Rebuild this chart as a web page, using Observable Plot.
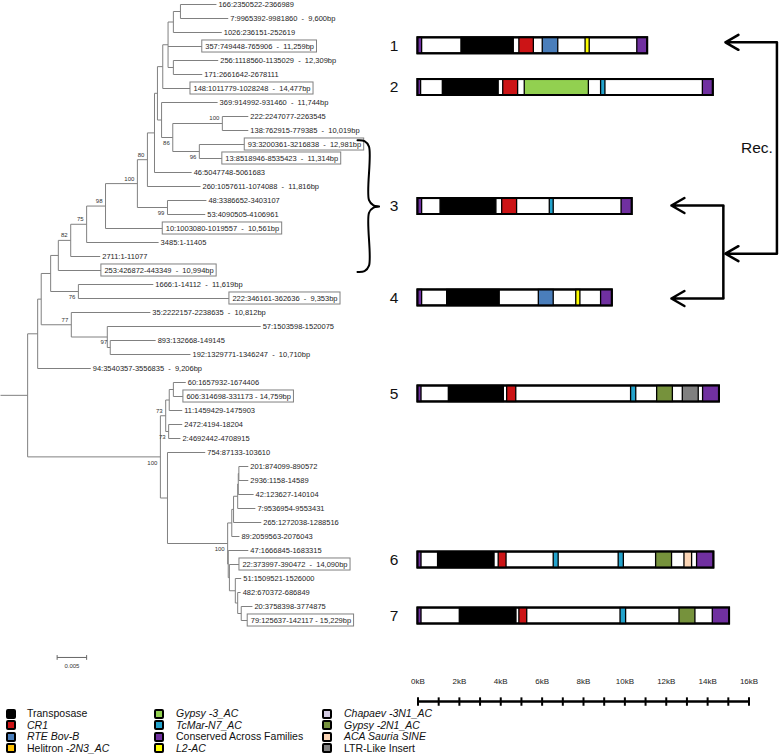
<!DOCTYPE html>
<html><head><meta charset="utf-8">
<script src="https://cdn.jsdelivr.net/npm/d3@7"></script>
<script src="https://cdn.jsdelivr.net/npm/@observablehq/plot@0.6"></script>
<style>
html,body{margin:0;padding:0;background:#fff;}
#wrap{position:relative;width:779px;height:754px;overflow:hidden;font-family:"Liberation Sans",Arial,sans-serif;}
#tree{position:absolute;left:0;top:0;}
#struct{position:absolute;left:380px;top:0;}
.lg{position:absolute;font-size:10.5px;line-height:10.5px;white-space:nowrap;color:#111;}
.sw{position:absolute;box-sizing:border-box;width:10px;height:10px;border:2px solid #000;border-radius:2px;}
</style></head>
<body><div id="wrap"><div id="tree"></div><div id="struct"></div><div id="legend"></div></div>
<script>
// ---------------- DATA ----------------
const leafLabels = [
 "166:2350522-2366989","7:9965392-9981860  -  9,600bp","1026:236151-252619","357:749448-765906  -  11,259bp",
 "256:1118560-1135029  -  12,309bp","171:2661642-2678111","148:1011779-1028248  -  14,477bp","369:914992-931460  -  11,744bp",
 "222:2247077-2263545","138:762915-779385  -  10,019bp","93:3200361-3216838  -  12,981bp","13:8518946-8535423  -  11,314bp",
 "46:5047748-5061683","260:1057611-1074088  -  11,816bp","48:3386652-3403107","53:4090505-4106961",
 "10:1003080-1019557  -  10,561bp","3485:1-11405","2711:1-11077","253:426872-443349  -  10,994bp",
 "1666:1-14112  -  11,619bp","222:346161-362636  -  9,353bp","35:2222157-2238635  -  10,812bp","57:1503598-1520075",
 "893:132668-149145","192:1329771-1346247  -  10,710bp","94:3540357-3556835  -  9,206bp","60:1657932-1674406",
 "606:314698-331173 - 14,759bp","11:1459429-1475903","2472:4194-18204","2:4692442-4708915",
 "754:87133-103610","201:874099-890572","2936:1158-14589","42:123627-140104",
 "7:9536954-9553431","265:1272038-1288516","89:2059563-2076043","47:1666845-1683315",
 "22:373997-390472  -  14,090bp","51:1509521-1526000","482:670372-686849","20:3758398-3774875",
 "79:125637-142117 - 15,229bp"];
// distance from the tree origin (substitutions/site)
const leafDepth = [0.0366,0.0386,0.0375,0.0342,0.0369,0.0342,0.0322,0.0368,0.0420,0.0420,
 0.0414,0.0376,0.0324,0.0339,0.0349,0.0347,0.0275,0.0268,0.0169,0.0171,
 0.0259,0.0388,0.0254,0.0441,0.0263,0.0322,0.0153,0.0314,0.0310,0.0308,
 0.0308,0.0305,0.0347,0.0420,0.0420,0.0429,0.0432,0.0442,0.0405,0.0420,
 0.0405,0.0408,0.0407,0.0427,0.0419];
const leafParent = ["A","A","B","C","D","D","F","L","I","I","J","J","M","Nn","n167a","n167a","n105","n86","n70","V",
 "n78","n78","Z","W","n110","n110","P1","n173","n173","n169","n168","n168","n167b","n1","n1","n2","n3","n4","n5","n10",
 "n9","n8","n7","n6","n6"];
const boxedLeaves = [3,6,10,11,16,19,21,28,40,44];

const nodeIds     = ["R","P1","X","Y","V","n70","n86","n105","n137","Nn","M","G","F","C","B","A","D","L","K","I","J","n167a","n78","Z","W","n110","Q","n165","n169","n173","n168","n167b","n227","n5","n4","n3","n2","n1","n10","n9","n8","n7","n6"];
const nodeParent  = [null,"R","P1","X","Y","V","n70","n86","n105","n137","Nn","M","G","F","C","B","C","G","L","K","K","n137","Y","X","Z","W","R","Q","n165","n169","n165","Q","n167b","n227","n5","n4","n3","n2","n227","n10","n9","n8","n7"];
const nodeDepth   = [0.0046,0.0063,0.0069,0.0085,0.0098,0.0119,0.0146,0.0178,0.0232,0.0249,0.0261,0.0266,0.0275,0.0284,0.0293,0.0305,0.0293,0.0273,0.0292,0.0376,0.0337,0.0283,0.0132,0.0120,0.0181,0.0186,0.0271,0.0280,0.0286,0.0293,0.0285,0.0283,0.0385,0.0392,0.0395,0.0402,0.0403,0.0404,0.0386,0.0388,0.0398,0.0402,0.0408];
const nodeSupport = ["","","","","","82","75","98","100","80","","","","","","","","","86","100","96","99","76","77","","97","100","73","","","73","","100","","","","","","","","","",""];
const scaleBarLength = 0.005;

const structureIds = ["1","2","3","4","5","6","7"];
const structureRow = [2.95,5.93,14.43,20.96,27.82,39.68,43.68];   // aligned with tree rows
const structureLength = [11.1,14.27,10.35,9.39,14.57,14.3,15.06]; // kB
const segments = [
 [1,"Conserved Across Families",0,0.2],[1,"Transposase",2.1,4.63],[1,"CR1",4.9,5.6],[1,"RTE Bov-B",6.03,6.78],[1,"L2-AC",8.1,8.3],[1,"Conserved Across Families",10.6,11.1],
 [2,"Conserved Across Families",0,0.15],[2,"Transposase",1.2,3.9],[2,"CR1",4.12,4.84],[2,"Gypsy-3_AC",5.16,8.26],[2,"TcMar-N7_AC",8.85,9.06],[2,"Conserved Across Families",13.77,14.27],
 [3,"Conserved Across Families",0,0.2],[3,"Transposase",1.09,3.79],[3,"CR1",4.07,4.79],[3,"TcMar-N7_AC",6.37,6.56],[3,"Conserved Across Families",9.84,10.35],
 [4,"Conserved Across Families",0,0.2],[4,"Transposase",1.41,3.95],[4,"RTE Bov-B",5.84,6.56],[4,"L2-AC",7.65,7.85],[4,"Conserved Across Families",8.85,9.39],
 [5,"Conserved Across Families",0,0.17],[5,"Transposase",1.49,4.15],[5,"CR1",4.31,4.75],[5,"TcMar-N7_AC",10.3,10.55],[5,"Gypsy-2N1_AC",11.56,12.32],[5,"LTR-Like Insert",12.8,13.57],[5,"Conserved Across Families",13.78,14.57],
 [6,"Conserved Across Families",0,0.17],[6,"Transposase",0.97,3.7],[6,"CR1",3.9,4.28],[6,"TcMar-N7_AC",6.56,6.8],[6,"TcMar-N7_AC",9.7,9.95],[6,"Gypsy-2N1_AC",11.51,12.28],[6,"ACA Sauria SINE",12.88,13.25],[6,"Conserved Across Families",13.49,14.3],
 [7,"Conserved Across Families",0,0.17],[7,"Transposase",2.02,4.76],[7,"CR1",4.9,5.28],[7,"TcMar-N7_AC",9.79,10.06],[7,"Gypsy-2N1_AC",12.64,13.41],[7,"Conserved Across Families",14.25,15.06]
];
const familyNames = ["Transposase","CR1","RTE Bov-B","Helitron-2N3_AC","Gypsy-3_AC","TcMar-N7_AC","Conserved Across Families","L2-AC","Chapaev-3N1_AC","Gypsy-2N1_AC","ACA Sauria SINE","LTR-Like Insert"];
const familyColors = ["#000000","#cc1416","#4a7ebb","#ffc000","#92d050","#23a3cc","#7030a0","#ffff00","#d3cbe2","#76923c","#fbd5b5","#808080"];
const familyLabelHtml = ["Transposase","<i>CR1</i>","<i>RTE Bov-B</i>","Helitron -<i>2N3_AC</i>","<i>Gypsy -3_AC</i>","<i>TcMar-N7_AC</i>","Conserved Across Families","<i>L2-AC</i>","<i>Chapaev -3N1_AC</i>","<i>Gypsy -2N1_AC</i>","<i>ACA Sauria SINE</i>","LTR-Like Insert"];
const kbTicks = [0,1,2,3,4,5,6,7,8,9,10,11,12,13,14,15,16];
const kbLabels = [0,2,4,6,8,10,12,14,16];
const recGroup = {from: 17.8, to: 2.7};        // rows of recombination arrows
const splitGroup = {rows: [14.36, 21.0]};      // structures 3 and 4
const braceRows = {top: 9.7, bottom: 19.1};    // leaves 93 ... 253 -> structure 3

// ---------------- TREE LAYOUT ----------------
const FONT = '"Liberation Sans", Arial, sans-serif';
const H = 712;
const AXIS_ROW = 49.79, AXIS_LABEL_ROW = 48.36, SCALEBAR_ROW = 46.64;
const nodes = new Map();
nodeIds.forEach((id, i) => nodes.set(id, {id, depth: nodeDepth[i], support: nodeSupport[i], children: []}));
leafLabels.forEach((lab, i) => nodes.get(leafParent[i]).children.push({leaf: true, i, depth: leafDepth[i], y: i, label: lab}));
nodeIds.forEach((id, i) => { if (nodeParent[i]) nodes.get(nodeParent[i]).children.push(nodes.get(id)); });
function lay(n) {
  if (n.leaf) return n.y;
  const ys = n.children.map(lay);
  n.ymin = d3.min(ys); n.ymax = d3.max(ys); n.y = (n.ymin + n.ymax) / 2;
  return n.y;
}
const root = nodes.get("R");
lay(root);
const segs = [{x1: 0, x2: root.depth, y1: root.y, y2: root.y}];
const supports = [];
const below = new Set(["K","J","n167a","n78","Q","n168","n227"]);
(function walk(n) {
  if (n.leaf) return;
  segs.push({x1: n.depth, x2: n.depth, y1: n.ymin, y2: n.ymax});
  if (n.support) supports.push({x: n.depth, y: n.y, t: n.support, below: below.has(n.id)});
  n.children.forEach(c => { segs.push({x1: n.depth, x2: c.depth, y1: c.y, y2: c.y}); walk(c); });
})(root);

const leaves = leafLabels.map((lab, i) => ({i, label: lab, depth: leafDepth[i], y: i, boxed: boxedLeaves.includes(i)}));
const ctx = document.createElement("canvas").getContext("2d");
ctx.font = '7.5px "Liberation Sans", Arial, sans-serif';
const PX_PER_UNIT = 295 / 0.05;
const boxes = leaves.filter(d => d.boxed).map(d => ({
  x1: d.depth, x2: d.depth + (ctx.measureText(d.label).width + 6) / PX_PER_UNIT, y1: d.y - 0.43, y2: d.y + 0.43
}));
// brace grouping leaves 93..253 (drawn at the right edge of the tree panel)
const tipRow = structureRow[2];
const bx = px => px / PX_PER_UNIT;
const brace = [
  [357, braceRows.top], [364, braceRows.top + 0.06], [368.5, braceRows.top + 0.45],
  [368.5, tipRow - 0.45], [373, tipRow - 0.08], [379, tipRow], [373, tipRow + 0.08], [368.5, tipRow + 0.45],
  [368.5, braceRows.bottom - 0.45], [364, braceRows.bottom - 0.06], [357, braceRows.bottom]
].map(([x, y]) => ({x: bx(x), y}));

const treePlot = Plot.plot({
  width: 380, height: H, margin: 0,
  x: {domain: [0, 0.05], range: [0, 295]},
  y: {domain: [0, 44], range: [4, 620]},
  style: {background: "transparent", fontFamily: FONT},
  marks: [
    Plot.link(segs, {x1: "x1", x2: "x2", y1: "y1", y2: "y2", stroke: "#808080", strokeWidth: 1}),
    Plot.rect(boxes, {x1: "x1", x2: "x2", y1: "y1", y2: "y2", fill: "white", stroke: "#808080", strokeWidth: 1}),
    Plot.text(leaves.filter(d => d.boxed), {x: "depth", y: "y", text: "label", dx: 3, textAnchor: "start", fontSize: 7.5, fill: "#1e1e1e"}),
    Plot.text(leaves.filter(d => !d.boxed), {x: "depth", y: "y", text: "label", dx: 2, textAnchor: "start", fontSize: 7.5, fill: "#1e1e1e"}),
    Plot.text(supports.filter(d => !d.below), {x: "x", y: "y", text: "t", dx: -3, dy: -5, textAnchor: "end", fontSize: 6, fill: "#333"}),
    Plot.text(supports.filter(d => d.below), {x: "x", y: "y", text: "t", dx: -3, dy: 6, textAnchor: "end", fontSize: 6, fill: "#333"}),
    Plot.line(brace, {x: "x", y: "y", curve: "catmull-rom", stroke: "black", strokeWidth: 2}),
    // scale bar
    Plot.link([{a: 0.0096, b: 0.0096 + scaleBarLength}], {x1: "a", x2: "b", y1: SCALEBAR_ROW, y2: SCALEBAR_ROW, stroke: "#666", strokeWidth: 1}),
    Plot.link([0.0096, 0.0096 + scaleBarLength], {x1: d => d, x2: d => d, y1: SCALEBAR_ROW - 0.17, y2: SCALEBAR_ROW + 0.17, stroke: "#666", strokeWidth: 1}),
    Plot.text([scaleBarLength], {x: d => 0.0096 + d / 2, y: SCALEBAR_ROW + 0.62, text: d => String(d), fontSize: 6, fill: "#333"})
  ]
});
document.getElementById("tree").append(treePlot);

// ---------------- STRUCTURES ----------------
const structures = structureIds.map((id, i) => ({id, row: structureRow[i], start: 0, end: structureLength[i]}));
const segData = segments.map(([s, f, a, b]) => ({row: structureRow[s - 1], family: f, start: a, end: b}));
const HALF = 0.57;
const recX = 17.35, recHead = 14.86, splitX = 14.76, splitHead = 12.25;

const structPlot = Plot.plot({
  width: 399, height: H, margin: 0,
  x: {domain: [0, 16], range: [37.5, 368.5]},
  y: {domain: [0, 44], range: [4, 620]},
  color: {domain: familyNames, range: familyColors},
  style: {background: "transparent", fontFamily: FONT},
  marks: [
    Plot.rect(structures, {x1: "start", x2: "end", y1: d => d.row - HALF, y2: d => d.row + HALF, fill: "white", stroke: "black", strokeWidth: 2}),
    Plot.rect(segData, {x1: "start", x2: "end", y1: d => d.row - HALF, y2: d => d.row + HALF, fill: "family", stroke: "black", strokeWidth: 1.3}),
    Plot.rect(structures, {x1: "start", x2: "end", y1: d => d.row - HALF, y2: d => d.row + HALF, fill: "none", stroke: "black", strokeWidth: 2}),
    Plot.text(structures, {x: "start", y: "row", text: "id", dx: -24, fontSize: 15.5, fill: "#111"}),
    // recombination arrows
    Plot.link([recGroup], {x1: recX, x2: recX, y1: "from", y2: "to", stroke: "black", strokeWidth: 2.5}),
    Plot.arrow([recGroup.from, recGroup.to], {x1: recX, x2: recHead, y1: d => d, y2: d => d, stroke: "black", strokeWidth: 2.5, headLength: 9}),
    Plot.text([recGroup], {x: recX, y: d => (d.from + d.to) / 2, text: () => "Rec.", dx: -4, textAnchor: "end", fontSize: 15.5, fill: "#111"}),
    Plot.link([splitGroup], {x1: splitX, x2: splitX, y1: d => d.rows[0], y2: d => d.rows[1], stroke: "black", strokeWidth: 2.5}),
    Plot.arrow(splitGroup.rows, {x1: splitX, x2: splitHead, y1: d => d, y2: d => d, stroke: "black", strokeWidth: 2.5, headLength: 9}),
    // kB axis
    Plot.link([{a: 0, b: 16}], {x1: "a", x2: "b", y1: AXIS_ROW, y2: AXIS_ROW, stroke: "black", strokeWidth: 2.5}),
    Plot.link(kbTicks, {x1: d => d, x2: d => d, y1: AXIS_ROW - 0.3, y2: AXIS_ROW + 0.3, stroke: "black", strokeWidth: 2}),
    Plot.text(kbLabels, {x: d => d, y: AXIS_LABEL_ROW, text: d => d + "kB", fontSize: 8, fill: "#222"})
  ]
});
document.getElementById("struct").append(structPlot);

// ---------------- LEGEND ----------------
const lg = document.getElementById("legend");
const swLeft = [6, 154, 322], txtLeft = [27, 176, 344];
familyNames.forEach((f, i) => {
  const col = Math.floor(i / 4), row = i % 4;
  const cy = 713.5 + row * 11.5;
  const sw = document.createElement("div");
  sw.className = "sw";
  sw.style.left = swLeft[col] + "px"; sw.style.top = (cy - 5) + "px";
  sw.style.background = familyColors[i];
  lg.append(sw);
  const t = document.createElement("div");
  t.className = "lg";
  t.style.left = txtLeft[col] + "px"; t.style.top = (cy - 5.25) + "px";
  t.innerHTML = familyLabelHtml[i];
  lg.append(t);
});
</script>
</body></html>
